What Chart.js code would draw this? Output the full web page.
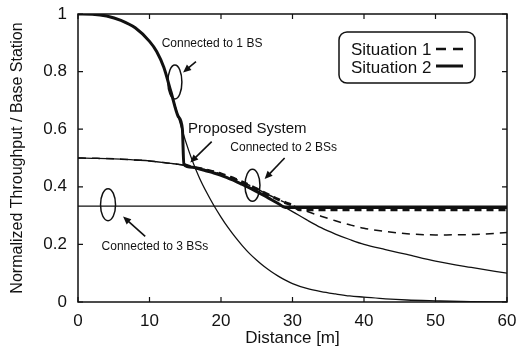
<!DOCTYPE html>
<html>
<head>
<meta charset="utf-8">
<script src="https://cdn.jsdelivr.net/npm/chart.js@4/dist/chart.umd.min.js"></script>
<style>
  html, body { margin: 0; padding: 0; background: #fff; }
  #wrap { width: 522px; height: 355px; }
</style>
</head>
<body>
<div id="wrap"><canvas id="chart" width="522" height="355"></canvas></div>
<script>
// distance grid [m] shared by the single-connection curves
const distance = [0, 2, 4, 6, 8, 10, 11, 12, 13, 14, 15, 16, 17, 18, 19, 20, 21, 22, 23, 24, 25, 26, 27, 28, 29, 30, 32, 34, 36, 38, 40, 43, 46, 50, 55, 60];

const oneBS = [1.0, 0.999, 0.993, 0.978, 0.952, 0.905, 0.87, 0.815, 0.73, 0.645, 0.562, 0.49, 0.43, 0.38, 0.335, 0.295, 0.258, 0.225, 0.195, 0.168, 0.145, 0.124, 0.106, 0.09, 0.076, 0.064, 0.047, 0.036, 0.028, 0.021, 0.017, 0.011, 0.007, 0.004, 0.001, 0.0];

// connected to 2 BSs, situation 2 (solid) and situation 1 (dashed)
const twoBSsit2 = [0.5, 0.499, 0.498, 0.496, 0.493, 0.49, 0.487, 0.484, 0.481, 0.478, 0.474, 0.468, 0.462, 0.455, 0.448, 0.44, 0.43, 0.42, 0.408, 0.396, 0.383, 0.37, 0.356, 0.342, 0.328, 0.314, 0.285, 0.258, 0.236, 0.217, 0.2, 0.182, 0.165, 0.142, 0.12, 0.1];
const twoBSsit1 = [0.5, 0.499, 0.498, 0.496, 0.493, 0.49, 0.487, 0.484, 0.481, 0.478, 0.474, 0.468, 0.464, 0.458, 0.452, 0.445, 0.436, 0.427, 0.416, 0.405, 0.393, 0.38, 0.368, 0.356, 0.345, 0.335, 0.315, 0.298, 0.282, 0.268, 0.256, 0.245, 0.237, 0.233, 0.234, 0.241];

// connected to 3 BSs
const threeBSx = [0, 60];
const threeBSy = [0.333, 0.333];

// proposed system
const propSit2X = [0, 2, 4, 6, 8, 10, 11, 12, 13, 14, 14.6, 14.8, 16, 17, 18, 19, 20, 21, 22, 23, 24, 25, 26, 27, 28, 29, 30, 40, 50, 60];
const propSit2Y = [1.0, 0.999, 0.993, 0.978, 0.952, 0.905, 0.87, 0.815, 0.73, 0.645, 0.6, 0.478, 0.468, 0.462, 0.455, 0.448, 0.44, 0.43, 0.42, 0.408, 0.396, 0.383, 0.37, 0.356, 0.342, 0.328, 0.328, 0.328, 0.328, 0.328];
const propSit1X = [14.8, 16, 17, 18, 19, 20, 21, 22, 23, 24, 25, 26, 27, 28, 29, 30, 31, 40, 50, 60];
const propSit1Y = [0.478, 0.468, 0.464, 0.458, 0.452, 0.445, 0.436, 0.427, 0.416, 0.405, 0.393, 0.38, 0.368, 0.356, 0.345, 0.335, 0.32, 0.32, 0.32, 0.32];

const xTicks = [0, 10, 20, 30, 40, 50, 60];
const yTicks = [0, 0.2, 0.4, 0.6, 0.8, 1];

const seriesNames = ['Situation 1', 'Situation 2'];

const FONT = "'Liberation Sans', Arial, sans-serif";
const INK = '#111';

function pts(xs, ys) {
    return xs.map((x, i) => ({ x: x, y: ys[i] }));
}

// annotation helpers (placement in data units, pixel sizes for shapes)
const notes = [
    { text: 'Connected to 1 BS', x: 11.7, y: 0.886, size: 12 },
    { text: 'Proposed System', x: 15.4, y: 0.587, size: 15 },
    { text: 'Connected to 2 BSs', x: 21.3, y: 0.526, size: 12 },
    { text: 'Connected to 3 BSs', x: 3.3, y: 0.18, size: 12 }
];
const arrows = [
    { from: [16.5, 0.835], to: [14.7, 0.797] },
    { from: [18.7, 0.557], to: [15.7, 0.484] },
    { from: [28.9, 0.5], to: [26.1, 0.427] },
    { from: [9.4, 0.228], to: [6.3, 0.297] }
];
const rings = [
    { x: 13.55, y: 0.764, rx: 7, ry: 17 },
    { x: 24.4, y: 0.405, rx: 7.5, ry: 16 },
    { x: 4.2, y: 0.338, rx: 7.5, ry: 16 }
];

const decor = {
    id: 'decor',
    afterDraw(chart) {
        const ctx = chart.ctx;
        const a = chart.chartArea;
        const xs = chart.scales.x, ys = chart.scales.y;
        ctx.save();
        ctx.strokeStyle = INK;
        ctx.fillStyle = INK;

        // frame
        ctx.lineWidth = 1.5;
        ctx.strokeRect(a.left, a.top, a.right - a.left, a.bottom - a.top);

        // inward ticks on all four sides
        ctx.lineWidth = 1.2;
        ctx.beginPath();
        xTicks.forEach(v => {
            const px = xs.getPixelForValue(v);
            ctx.moveTo(px, a.bottom); ctx.lineTo(px, a.bottom - 5);
            ctx.moveTo(px, a.top); ctx.lineTo(px, a.top + 5);
        });
        yTicks.forEach(v => {
            const py = ys.getPixelForValue(v);
            ctx.moveTo(a.left, py); ctx.lineTo(a.left + 5, py);
            ctx.moveTo(a.right, py); ctx.lineTo(a.right - 5, py);
        });
        ctx.stroke();

        // labels
        ctx.textAlign = 'left';
        ctx.textBaseline = 'alphabetic';
        notes.forEach(n => {
            ctx.font = n.size + 'px ' + FONT;
            ctx.fillText(n.text, xs.getPixelForValue(n.x), ys.getPixelForValue(n.y));
        });

        // arrows
        ctx.lineWidth = 1.6;
        arrows.forEach(ar => {
            const x1 = xs.getPixelForValue(ar.from[0]), y1 = ys.getPixelForValue(ar.from[1]);
            const x2 = xs.getPixelForValue(ar.to[0]), y2 = ys.getPixelForValue(ar.to[1]);
            const ang = Math.atan2(y2 - y1, x2 - x1);
            ctx.beginPath();
            ctx.moveTo(x1, y1);
            ctx.lineTo(x2 - 5 * Math.cos(ang), y2 - 5 * Math.sin(ang));
            ctx.stroke();
            ctx.beginPath();
            ctx.moveTo(x2, y2);
            ctx.lineTo(x2 - 8 * Math.cos(ang) + 3.5 * Math.sin(ang), y2 - 8 * Math.sin(ang) - 3.5 * Math.cos(ang));
            ctx.lineTo(x2 - 8 * Math.cos(ang) - 3.5 * Math.sin(ang), y2 - 8 * Math.sin(ang) + 3.5 * Math.cos(ang));
            ctx.closePath();
            ctx.fill();
        });

        // ellipses
        ctx.lineWidth = 1.5;
        rings.forEach(r => {
            ctx.beginPath();
            ctx.ellipse(xs.getPixelForValue(r.x), ys.getPixelForValue(r.y), r.rx, r.ry, 0, 0, Math.PI * 2);
            ctx.stroke();
        });

        // legend box
        const bx = a.left + 261, by = a.top + 18, bw = 136, bh = 51;
        ctx.lineWidth = 1.5;
        ctx.beginPath();
        ctx.roundRect(bx, by, bw, bh, 8);
        ctx.stroke();
        ctx.font = '17px ' + FONT;
        ctx.fillText(seriesNames[0], bx + 12, by + 23);
        ctx.fillText(seriesNames[1], bx + 12, by + 41);
        ctx.lineWidth = 2.5;
        ctx.setLineDash([10, 7]);
        ctx.beginPath();
        ctx.moveTo(bx + 97, by + 17); ctx.lineTo(bx + 126, by + 17);
        ctx.stroke();
        ctx.setLineDash([]);
        ctx.lineWidth = 3;
        ctx.beginPath();
        ctx.moveTo(bx + 97, by + 34); ctx.lineTo(bx + 124, by + 34);
        ctx.stroke();
        ctx.restore();
    }
};

const thin = 1.3, thick = 3;
const base = { borderColor: INK, pointRadius: 0, fill: false, cubicInterpolationMode: 'monotone' };

new Chart(document.getElementById('chart').getContext('2d'), {
    type: 'line',
    data: {
        datasets: [
            Object.assign({ label: 'Proposed Situation 2', data: pts(propSit2X, propSit2Y), borderWidth: thick }, base),
            Object.assign({ label: 'Proposed Situation 1', data: pts(propSit1X, propSit1Y), borderWidth: thick, borderDash: [7, 5] }, base),
            Object.assign({ label: 'Connected to 1 BS', data: pts(distance, oneBS), borderWidth: thin }, base),
            Object.assign({ label: 'Connected to 2 BSs (2)', data: pts(distance, twoBSsit2), borderWidth: thin }, base),
            Object.assign({ label: 'Connected to 2 BSs (1)', data: pts(distance, twoBSsit1), borderWidth: 1.5, borderDash: [8, 6] }, base),
            Object.assign({ label: 'Connected to 3 BSs', data: pts(threeBSx, threeBSy), borderWidth: thin }, base)
        ]
    },
    options: {
        responsive: false,
        animation: false,
        layout: { padding: { left: 0, top: 14, right: 15, bottom: 0 } },
        plugins: { legend: { display: false }, tooltip: { enabled: false } },
        scales: {
            x: {
                type: 'linear', min: 0, max: 60,
                afterBuildTicks: s => { s.ticks = xTicks.map(v => ({ value: v })); },
                afterFit: s => { s.height = 53; s.paddingLeft = 0; s.paddingRight = 0; },
                grid: { display: false, drawTicks: false },
                border: { display: false },
                ticks: { color: INK, font: { family: FONT, size: 17 }, padding: 9, maxRotation: 0 },
                title: { display: true, text: 'Distance [m]', color: INK, font: { family: FONT, size: 17 }, padding: { top: 0, bottom: 6 } }
            },
            y: {
                type: 'linear', min: 0, max: 1,
                afterBuildTicks: s => { s.ticks = yTicks.map(v => ({ value: v })); },
                afterFit: s => { s.width = 78; s.paddingTop = 0; s.paddingBottom = 0; },
                grid: { display: false, drawTicks: false },
                border: { display: false },
                ticks: { color: INK, font: { family: FONT, size: 17 }, padding: 11, callback: v => String(+v.toFixed(1)) },
                title: { display: true, text: 'Normalized Throughput / Base Station', color: INK, font: { family: FONT, size: 16 }, padding: { top: 8, bottom: 0 } }
            }
        }
    },
    plugins: [decor]
});
</script>
</body>
</html>
